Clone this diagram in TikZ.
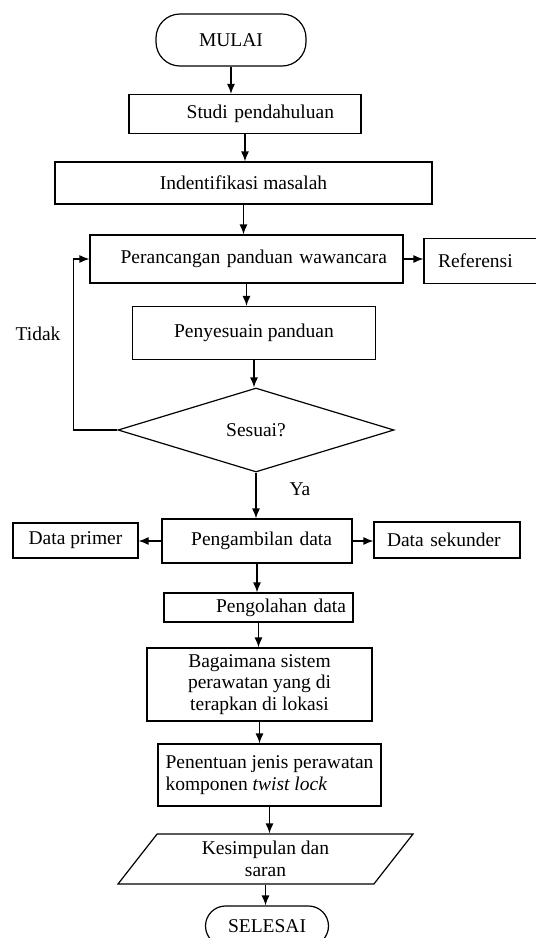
\documentclass[tikz,border=0pt]{standalone}
\usepackage{fontspec}
\setmainfont{Liberation Serif}
\usetikzlibrary{shapes.geometric,arrows.meta}

\begin{document}
\begin{tikzpicture}[
            x=1pt, y=-1pt,
            font=\fontsize{19.5}{21.5}\selectfont,
            kotak/.style={draw, line width=1.2pt, inner sep=0pt}, kotak/.default=,
            ujung/.style={draw, line width=1.2pt, rounded corners=20pt, inner sep=0pt}, ujung/.default=,
            belah/.style={draw, line width=1.2pt, diamond, inner sep=0pt}, belah/.default=,
            jajar/.style={draw, line width=1.2pt, trapezium, trapezium left angle=42,
                trapezium right angle=138, trapezium stretches body, inner sep=0pt}, jajar/.default=,
            panah/.style={-{Latex[length=10pt,width=8pt]}, line width=1.2pt}, panah/.default=,
        ]
        \useasboundingbox (0,0) rectangle (536,938);
        % alur utama
        \node[ujung, minimum width=150pt, minimum height=52pt, rounded corners=24pt] (mulai) at (231,40) {MULAI};
        \node[kotak, minimum height=39pt, inner xsep=27pt, text width=178pt, align=right] (studi) at (245,114) {Studi pendahuluan};
        \node[kotak, minimum width=377pt, minimum height=42pt] (identifikasi) at (243.5,183) {Indentifikasi masalah};
        \node[kotak, minimum height=48pt, inner xsep=16pt, text width=281pt, align=right] (perancangan) at (246.5,259) {Perancangan panduan wawancara};
        \node[kotak, minimum height=45pt, inner xsep=14pt, text width=96pt, align=left] (referensi) at (486,261) {Referensi};
        \node[kotak, minimum width=243pt, minimum height=53pt] (penyesuaian) at (254,333) {Penyesuain panduan};
        \node[belah, minimum width=276pt, minimum height=84pt] (sesuai) at (256,430) {Sesuai?};
        \node (tidak) at (38,334) {Tidak};
        \node (ya) at (300,489) {Ya};
        \node[kotak, minimum height=44pt, inner xsep=20pt, text width=150pt, align=right] (pengambilan) at (257,541) {Pengambilan data};
        \node[kotak, minimum width=125pt, minimum height=35pt] (primer) at (75.5,540.5) {Data primer};
        \node[kotak, minimum height=36pt, inner xsep=13pt, text width=120pt, align=left] (sekunder) at (447,540) {Data sekunder};
        \node[kotak, minimum height=29pt, inner xsep=7pt, text width=175pt, align=right] (pengolahan) at (258.5,607.5) {Pengolahan data};
        \node[kotak, minimum width=225pt, minimum height=73pt, align=center] (bagaimana) at (259.5,684.5) {Bagaimana sistem\\perawatan yang di\\terapkan di lokasi};
        \node[kotak, minimum width=223pt, minimum height=62pt, align=left] (penentuan) at (269.5,775) {Penentuan jenis perawatan\\komponen \textit{twist lock}};
        \node[jajar, minimum width=295pt, minimum height=50pt, align=center] (kesimpulan) at (265.5,859) {Kesimpulan dan\\saran};
        \node[ujung, minimum width=123pt, minimum height=40pt] (selesai) at (267,926) {SELESAI};

        \draw[panah] (mulai.south) -- (mulai.south |- studi.north);
        \draw[panah] (studi.south) -- (studi.south |- identifikasi.north);
        \draw[panah] (identifikasi.south) -- (identifikasi.south |- perancangan.north);
        \draw[panah] (perancangan.south) -- (perancangan.south |- penyesuaian.north);
        \draw[panah] (perancangan.east) -- (perancangan.east -| referensi.west);
        \draw[panah] (penyesuaian.south) -- (penyesuaian.south |- sesuai.north);
        \draw[panah] (sesuai.west) -- ++(-44,0) |- (perancangan.west);
        \draw[panah] (sesuai.south) -- (sesuai.south |- pengambilan.north);
        \draw[panah] (pengambilan.west) -- (pengambilan.west -| primer.east);
        \draw[panah] (pengambilan.east) -- (pengambilan.east -| sekunder.west);
        \draw[panah] (pengambilan.south) -- (pengambilan.south |- pengolahan.north);
        \draw[panah] (pengolahan.south) -- (pengolahan.south |- bagaimana.north);
        \draw[panah] (bagaimana.south) -- (bagaimana.south |- penentuan.north);
        \draw[panah] (penentuan.south) -- (penentuan.south |- kesimpulan.north);
        \draw[panah] (kesimpulan.south) -- (kesimpulan.south |- selesai.north);
    \end{tikzpicture}
\end{document}
